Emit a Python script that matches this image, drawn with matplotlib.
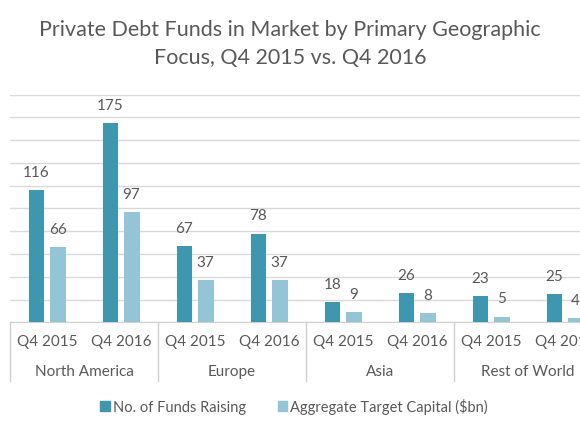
import matplotlib
matplotlib.use("Agg")
import matplotlib.pyplot as plt
import matplotlib.transforms as mtransforms
import numpy as np
from matplotlib.patches import Patch

plt.rcParams['font.family'] = ['Lato', 'DejaVu Sans']

regions = ["North America", "Europe", "Asia", "Rest of World"]
periods = ["Q4 2015", "Q4 2016"]
funds_raising = [116, 175, 67, 78, 18, 26, 23, 25]
target_capital = [66, 97, 37, 37, 9, 8, 5, 4]

dark = "#3F97AF"
light = "#93C5D6"
grey = "#595959"

fig = plt.figure(figsize=(5.8, 4.35), dpi=100)
ax = fig.add_axes([10 / 580, 0.2568, 1 - 10 / 580, 0.78 - 0.2568])

x = np.arange(len(funds_raising))
w = 0.216
off = 0.142
b1 = ax.bar(x - off, funds_raising, w, color=dark, zorder=3)
b2 = ax.bar(x + off, target_capital, w, color=light, zorder=3)

for bars, vals in ((b1, funds_raising), (b2, target_capital)):
    for rect, v in zip(bars, vals):
        ax.annotate(str(v), (rect.get_x() + rect.get_width() / 2, rect.get_height()),
                    xytext=(0, 8), textcoords="offset points", ha="center", va="bottom",
                    fontsize=11, color=grey)

ax.set_xlim(-0.5, -0.5 + 570 / 74)
ax.set_ylim(0, 200)
ax.set_yticks(np.arange(0, 201, 20))
ax.yaxis.grid(True, color="#d9d9d9", linewidth=1, zorder=0)
ax.set_yticklabels([])
ax.tick_params(left=False, bottom=False, labelbottom=False)
for s in ["top", "right", "left"]:
    ax.spines[s].set_visible(False)
ax.spines["bottom"].set_color("#d0d0d0")

trans = mtransforms.blended_transform_factory(ax.transData, ax.transAxes)
for i in range(len(x)):
    ax.text(i, -0.083, periods[i % 2], transform=trans, ha="center", va="center",
            fontsize=11, color=grey)
for g, name in enumerate(regions):
    ax.text(2 * g + 0.5, -0.215, name, transform=trans, ha="center", va="center",
            fontsize=11, color=grey)
for xs in np.arange(-0.5, 8, 2):
    ax.plot([xs, xs], [0, -0.258], transform=trans, color="#d0d0d0", linewidth=1,
            clip_on=False)

handles = [Patch(color=dark, label="No. of Funds Raising"),
           Patch(color=light, label="Aggregate Target Capital ($bn)")]
fig.legend(handles=handles, loc="center", bbox_to_anchor=(0.507, 0.064), ncol=2,
           frameon=False, fontsize=10.5, labelcolor=grey, handlelength=0.65,
           handleheight=0.65, handletextpad=0.2, columnspacing=2.2)

fig.text(0.5, 1 - 30 / 435, "Private Debt Funds in Market by Primary Geographic",
         ha="center", va="center", fontsize=15.5, color=grey)
fig.text(0.5, 1 - 58 / 435, "Focus, Q4 2015 vs. Q4 2016",
         ha="center", va="center", fontsize=15.5, color=grey)

fig.savefig("out.png", dpi=100)
